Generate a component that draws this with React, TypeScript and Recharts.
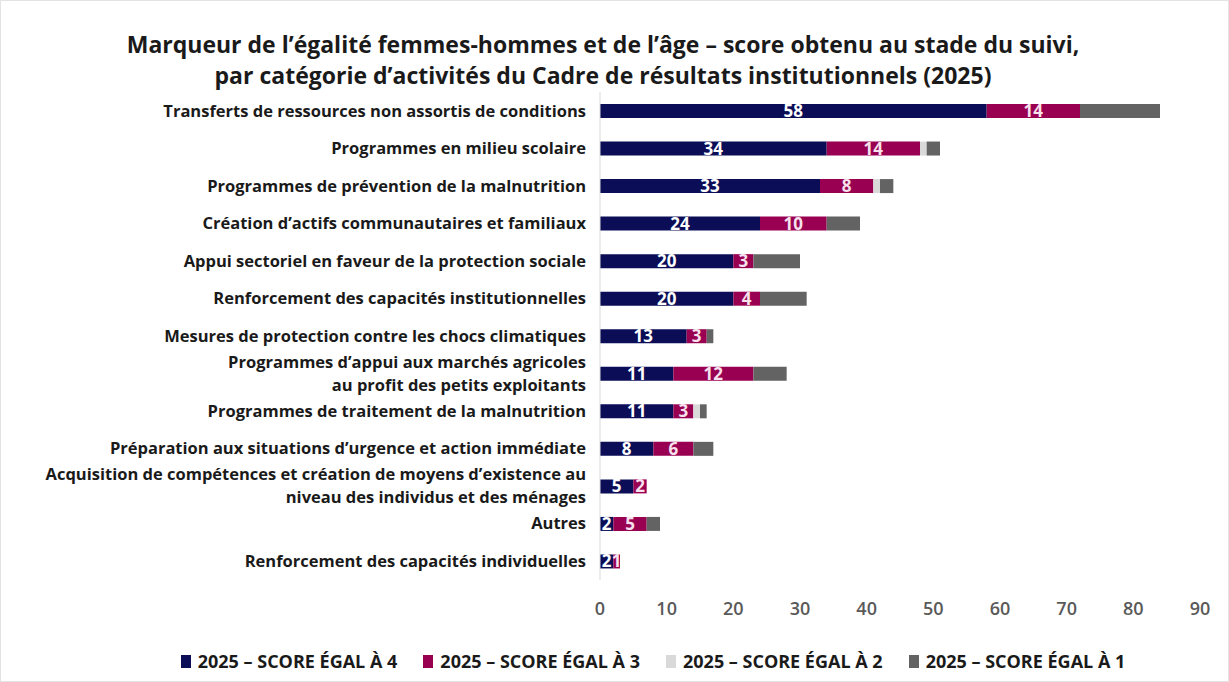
import React from 'react';
import { BarChart, Bar, XAxis, YAxis, LabelList } from 'recharts';

const categories = [
  'Transferts de ressources non assortis de conditions',
  'Programmes en milieu scolaire',
  'Programmes de prévention de la malnutrition',
  'Création d’actifs communautaires et familiaux',
  'Appui sectoriel en faveur de la protection sociale',
  'Renforcement des capacités institutionnelles',
  'Mesures de protection contre les chocs climatiques',
  'Programmes d’appui aux marchés agricoles\nau profit des petits exploitants',
  'Programmes de traitement de la malnutrition',
  'Préparation aux situations d’urgence et action immédiate',
  'Acquisition de compétences et création de moyens d’existence au\nniveau des individus et des ménages',
  'Autres',
  'Renforcement des capacités individuelles',
];

const score4 = [58, 34, 33, 24, 20, 20, 13, 11, 11, 8, 5, 2, 2];
const score3 = [14, 14, 8, 10, 3, 4, 3, 12, 3, 6, 2, 5, 1];
const score2 = [0, 1, 1, 0, 0, 0, 0, 0, 1, 0, 0, 0, 0];
const score1 = [12, 2, 2, 5, 7, 7, 1, 5, 1, 3, 0, 2, 0];

const xTicks = [0, 10, 20, 30, 40, 50, 60, 70, 80, 90];

const seriesNames = [
  '2025 – SCORE ÉGAL À 4',
  '2025 – SCORE ÉGAL À 3',
  '2025 – SCORE ÉGAL À 2',
  '2025 – SCORE ÉGAL À 1',
];

const titleLines = [
  'Marqueur de l’égalité femmes-hommes et de l’âge – score obtenu au stade du suivi,',
  'par catégorie d’activités du Cadre de résultats institutionnels (2025)',
];

const COLORS = ['#0b0e57', '#990052', '#d9d9d9', '#636363'];

const FONT = '"Open Sans", "Noto Sans", sans-serif';

const data = categories.map((name, i) => ({
  name,
  s4: score4[i],
  s3: score3[i],
  s2: score2[i],
  s1: score1[i],
}));

const hideZero = (v: any) => (Number(v) === 0 ? '' : v);

function CategoryTick({ x, y, payload }: any) {
  const lines = String(payload.value).split('\n');
  const lh = 23;
  const start = -((lines.length - 1) * lh) / 2;
  return (
    <g>
      {lines.map((l, i) => (
        <text
          key={i}
          x={x}
          y={y + start + i * lh}
          dy="0.35em"
          textAnchor="end"
          fontFamily={FONT}
          fontSize={16.5}
          fontWeight={700}
          fill="#1a1a1a"
        >
          {l}
        </text>
      ))}
    </g>
  );
}

export default function App() {
  return (
    <div
      style={{
        position: 'absolute',
        left: 0,
        top: 0,
        width: 1229,
        height: 682,
        background: '#fff',
        border: '1px solid #e3e3e3',
        boxSizing: 'border-box',
        fontFamily: FONT,
      }}
    >
      {titleLines.map((t, i) => (
        <div
          key={i}
          style={{
            position: 'absolute',
            left: 0,
            top: 28 + i * 31,
            width: 1204,
            textAlign: 'center',
            fontSize: 23,
            lineHeight: '31px',
            height: 31,
            fontWeight: 700,
            color: '#1a1a1a',
            whiteSpace: 'nowrap',
          }}
        >
          {t}
        </div>
      ))}

      <div style={{ position: 'absolute', left: -1, top: -1 }}>
        <BarChart
          width={1229}
          height={682}
          data={data}
          layout="vertical"
          margin={{ top: 92, right: 29, bottom: 72, left: 0 }}
          barSize={14}
        >
          <XAxis
            type="number"
            domain={[0, 90]}
            ticks={xTicks}
            axisLine={false}
            tickLine={false}
            height={30}
            tickMargin={16}
            tick={{ fill: '#595959', fontSize: 18, fontWeight: 600, fontFamily: FONT }}
          />
          <YAxis
            type="category"
            dataKey="name"
            width={600}
            interval={0}
            tickLine={false}
            tickMargin={8}
            axisLine={{ stroke: '#d9d9d9' }}
            tick={<CategoryTick />}
          />
          <Bar dataKey="s4" stackId="a" fill={COLORS[0]} isAnimationActive={false}>
            <LabelList
              dataKey="s4"
              position="center"
              formatter={hideZero}
              fill="#ffffff"
              fontSize={17}
              fontWeight={700}
              fontFamily={FONT}
            />
          </Bar>
          <Bar dataKey="s3" stackId="a" fill={COLORS[1]} isAnimationActive={false}>
            <LabelList
              dataKey="s3"
              position="center"
              formatter={hideZero}
              fill="#f6e1ec"
              fontSize={17}
              fontWeight={700}
              fontFamily={FONT}
            />
          </Bar>
          <Bar dataKey="s2" stackId="a" fill={COLORS[2]} isAnimationActive={false} />
          <Bar dataKey="s1" stackId="a" fill={COLORS[3]} isAnimationActive={false} />
        </BarChart>
      </div>

      <div
        style={{
          position: 'absolute',
          left: 0,
          top: 648,
          width: 1304,
          display: 'flex',
          justifyContent: 'center',
          gap: 26,
          fontSize: 18,
          fontWeight: 700,
          color: '#1a1a1a',
        }}
      >
        {seriesNames.map((n, i) => (
          <div key={n} style={{ display: 'flex', alignItems: 'center', gap: 7 }}>
            <span style={{ width: 10, height: 13, background: COLORS[i], display: 'inline-block' }} />
            <span>{n}</span>
          </div>
        ))}
      </div>
    </div>
  );
}
